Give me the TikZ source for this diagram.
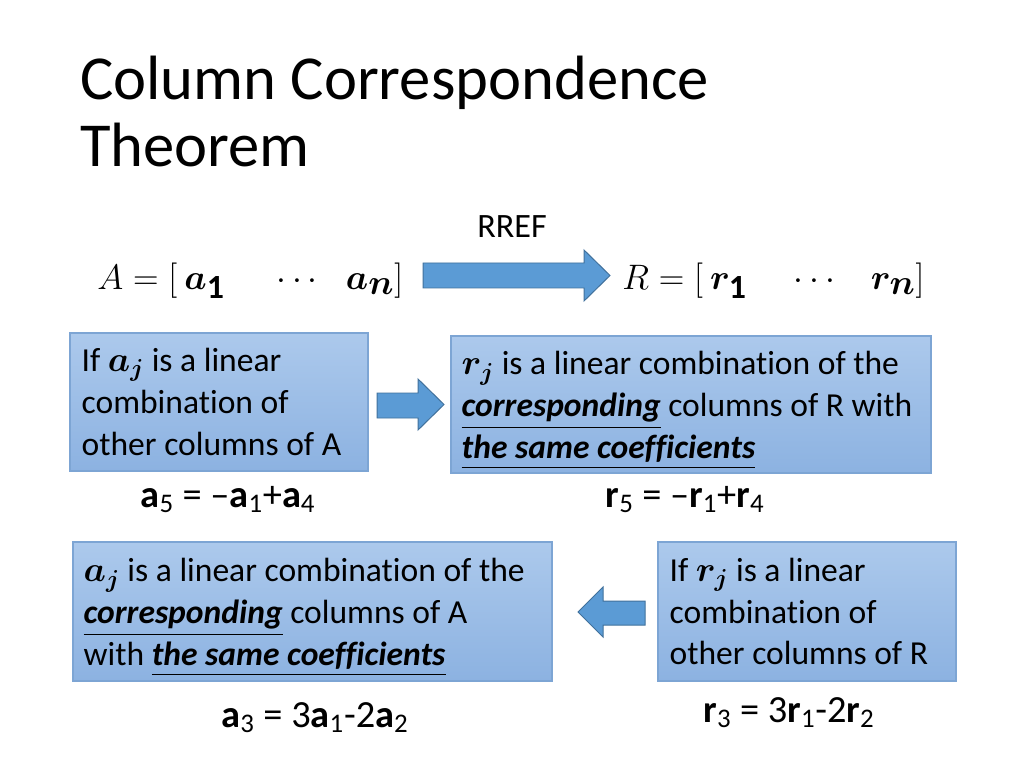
\documentclass[tikz,border=0pt]{standalone}
\usepackage{amsmath}
\usepackage{bm}
\usepackage{fontspec}
\setmainfont{Carlito}[Ligatures=NoCommon]
\definecolor{boxtop}{RGB}{172,201,236}
\definecolor{boxbot}{RGB}{140,178,225}
\definecolor{boxline}{RGB}{125,165,212}
\definecolor{arrfill}{RGB}{91,155,213}
\definecolor{arrline}{RGB}{65,113,156}
\tikzset{
  infobox/.style={rectangle, draw=boxline, line width=0.8pt, top color=boxtop, bottom color=boxbot, inner sep=0pt},
  boxtext/.style={anchor=west, inner sep=0pt, align=left, font=\fontsize{23.6}{29.5}\selectfont},
  blockarrow/.style={fill=arrfill, draw=arrline, line width=0.7pt, line join=miter},
  eqtext/.style={font=\fontsize{27}{30}\selectfont, inner sep=0pt, anchor=base},
  plain/.style={inner sep=0pt}
}
\newcommand{\ulb}[1]{\underline{\textbf{\textit{#1}}}}
\begin{document}
\begin{tikzpicture}[x=0.703125pt,y=-0.703125pt]
\useasboundingbox (0,0) rectangle (1024,768);
\fill[white] (0,0) rectangle (1024,768);
% title
\node[plain, anchor=base west, align=left, font=\fontsize{44}{47.5}\selectfont] (title) at (80,167)
  {Column Correspondence\\Theorem};
% RREF line
\node[plain, anchor=base, font=\fontsize{24}{28}\selectfont] (rref) at (512,238) {RREF};
\node[plain, anchor=base west, font=\fontsize{34}{38}\selectfont] (Amat) at (97,289)
  {$A=[\hspace{0.15em}\bm{a}_{\mathbf{1}}\hspace{0.95em}\cdots\hspace{0.46em}\bm{a}_{\bm{n}}]$};
\node[plain, anchor=base west, font=\fontsize{34}{38}\selectfont] (Rmat) at (622,289)
  {$R=[\hspace{0.15em}\bm{r}_{\mathbf{1}}\hspace{0.85em}\cdots\hspace{0.62em}\bm{r}_{\bm{n}}]$};
\draw[blockarrow] (423,263) -- (584,263) -- (584,250) -- (610,275.5) -- (584,301) -- (584,288) -- (423,288) -- cycle;
% boxes
\node[infobox, minimum width=209.5pt, minimum height=97pt] (b1) at (219,402) {};
\node[infobox, minimum width=337.5pt, minimum height=96.3pt] (b2) at (691,404.5) {};
\node[infobox, minimum width=336.8pt, minimum height=97.7pt] (b3) at (312.5,611.5) {};
\node[infobox, minimum width=209.5pt, minimum height=97.7pt] (b4) at (807,611.5) {};
\node[boxtext] (t1) at ([xshift=8.4pt]b1.west)
  {If $\bm{a_j}$ is a linear\\combination of\\other columns of A};
\node[boxtext] (t2) at ([xshift=7.7pt,yshift=-4.4pt]b2.west)
  {$\bm{r_j}$ is a linear combination of the\\\ulb{corresponding} columns of R with\\\ulb{the same coefficients}};
\node[boxtext] (t3) at ([xshift=7.7pt,yshift=-4.4pt]b3.west)
  {$\bm{a_j}$ is a linear combination of the\\\ulb{corresponding} columns of A\\with \ulb{the same coefficients}};
\node[boxtext] (t4) at ([xshift=8.4pt]b4.west)
  {If $\bm{r_j}$ is a linear\\combination of\\other columns of R};
% arrows between boxes
\draw[blockarrow] (377,393) -- (418,393) -- (418,379) -- (444,404.5) -- (418,430) -- (418,418) -- (377,418) -- cycle;
\draw[blockarrow] (645,601) -- (603,601) -- (603,587) -- (578,612) -- (603,637) -- (603,625) -- (645,625) -- cycle;
% equations
\node[eqtext] (e1) at (228,507) {\textbf{a}\textsubscript{5} = \textendash\textbf{a}\textsubscript{1}+\textbf{a}\textsubscript{4}};
\node[eqtext] (e2) at (685,507) {\textbf{r}\textsubscript{5} = \textendash\textbf{r}\textsubscript{1}+\textbf{r}\textsubscript{4}};
\node[eqtext] (e3) at (315,727) {\textbf{a}\textsubscript{3} = 3\textbf{a}\textsubscript{1}-2\textbf{a}\textsubscript{2}};
\node[eqtext] (e4) at (789,722) {\textbf{r}\textsubscript{3} = 3\textbf{r}\textsubscript{1}-2\textbf{r}\textsubscript{2}};
\end{tikzpicture}
\end{document}
